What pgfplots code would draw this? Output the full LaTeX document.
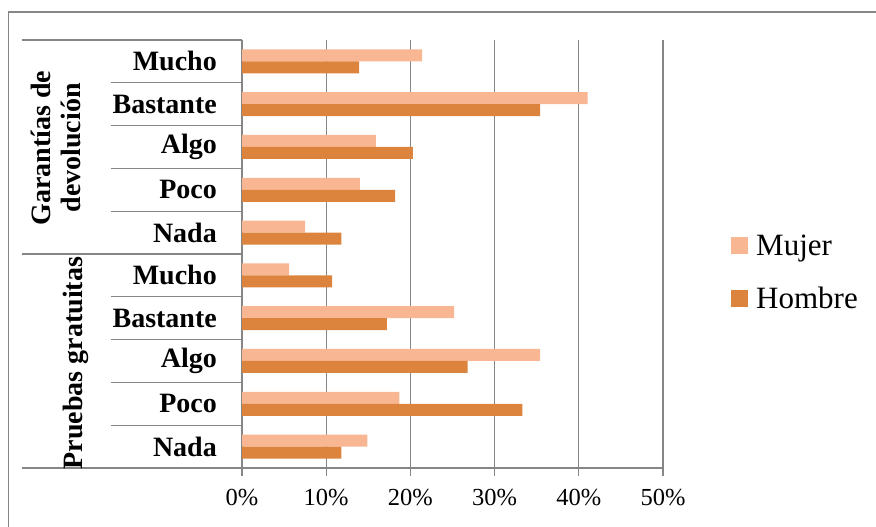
\documentclass[border=0pt]{standalone}
\usepackage{pgfplots}
\pgfplotsset{compat=1.18}
\usepackage{fontspec}
\setmainfont{Liberation Serif}
\definecolor{mujer}{RGB}{248,182,146}
\definecolor{hombre}{RGB}{220,132,62}
\definecolor{lg}{RGB}{134,134,134}
\begin{document}
\begin{tikzpicture}
\path[use as bounding box] (0,0) rectangle (876bp,527bp);
\draw[lg, line width=1.2bp] (8.5bp,0) -- (8.5bp,515bp) -- (876bp,515bp);
\begin{axis}[
  at={(242bp,59bp)}, anchor=south west,
  scale only axis, width=421bp, height=428bp,
  xbar, bar width=12bp,
  xmin=0, xmax=50, ymin=0.5, ymax=10.5,
  axis x line=bottom, axis y line=left,
  axis line style={-, lg, line width=1.2bp},
  xtick={0,10,20,30,40,50},
  xticklabels={0\%,10\%,20\%,30\%,40\%,50\%},
  xmajorgrids, grid style={lg, line width=1.2bp},
  tick align=outside, major tick length=8bp,
  xtick style={lg, line width=1.2bp},
  ytick={1,...,10},
  yticklabels={Nada,Poco,Algo,Bastante,Mucho,Nada,Poco,Algo,Bastante,Mucho},
  ytick style={draw=none},
  x tick label style={font=\fontsize{24.5bp}{28bp}\selectfont, inner sep=0pt, anchor=north, yshift=-13bp},
  y tick label style={font=\fontsize{28bp}{30bp}\selectfont\bfseries, inner sep=0pt, anchor=east, xshift=-17bp},
  legend style={draw=none, fill=none, at={(rel axis cs:1.1615,0.451)}, anchor=west,
    inner sep=0pt, row sep=25bp, column sep=8bp,
    font=\fontsize{31bp}{34bp}\selectfont,
    nodes={inner sep=0pt, text height=21bp, text depth=7bp, anchor=base west}},
  legend cell align=left,
  legend image code/.code={\fill[#1, draw=none] (0bp,1.5bp) rectangle (17bp,18.5bp);},
  clip=false,
]
\addplot[fill=mujer, draw=none, bar shift=6bp] coordinates {
 (14.9,1) (18.7,2) (35.4,3) (25.2,4) (5.6,5) (7.5,6) (14.0,7) (15.9,8) (41.05,9) (21.4,10)};
\addplot[fill=hombre, draw=none, bar shift=-6bp] coordinates {
 (11.8,1) (33.3,2) (26.8,3) (17.2,4) (10.7,5) (11.8,6) (18.2,7) (20.3,8) (35.4,9) (13.9,10)};
\legend{Mujer, Hombre}
\pgfplotsinvokeforeach{1.5,2.5,3.5,4.5,6.5,7.5,8.5,9.5}{
  \draw[lg, line width=1.2bp] ([xshift=-131bp]axis cs:0,#1) -- (axis cs:0,#1);
}
\pgfplotsinvokeforeach{0.5,5.5,10.5}{
  \draw[lg, line width=1.2bp] ([xshift=-220bp]axis cs:0,#1) -- (axis cs:0,#1);
}
\end{axis}
\node[rotate=90, align=center, inner sep=0pt, font=\fontsize{28bp}{30bp}\selectfont\bfseries] at (56bp,379bp) {Garantías de\\devolución};
\node[rotate=90, inner sep=0pt, font=\fontsize{28bp}{30bp}\selectfont\bfseries] at (76bp,164bp) {Pruebas gratuitas};
\end{tikzpicture}
\end{document}
